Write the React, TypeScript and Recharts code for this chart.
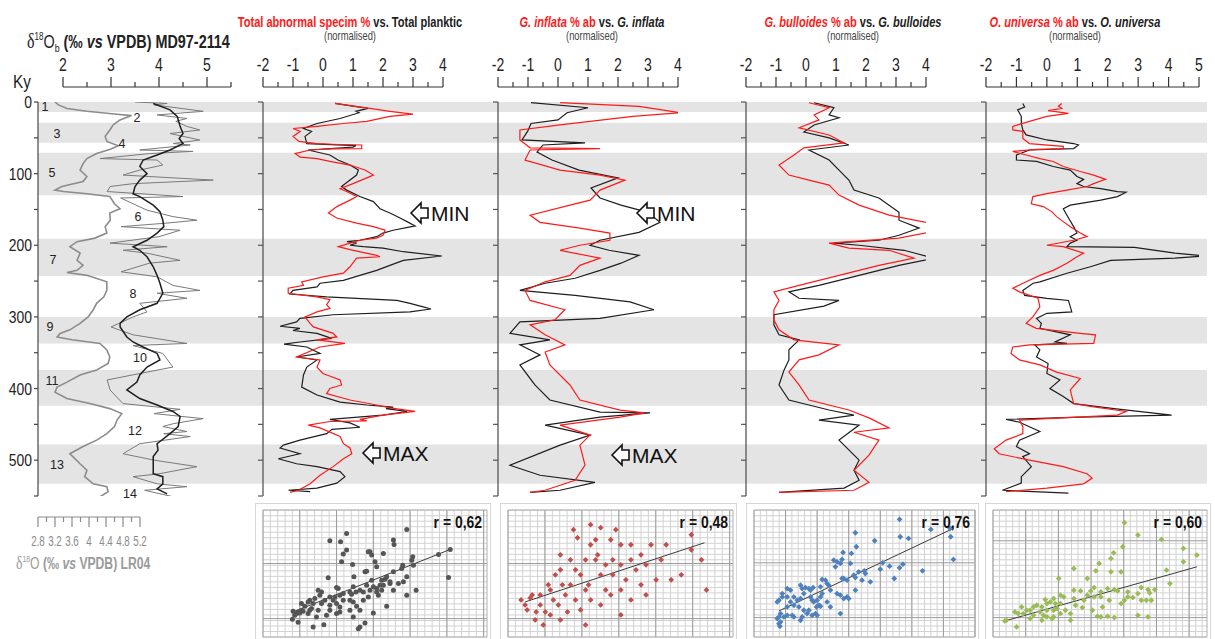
import React from 'react';
import {
  LineChart,
  Line,
  XAxis,
  YAxis,
  ReferenceArea,
  ReferenceLine,
  ScatterChart,
  Scatter,
} from 'recharts';

const W = 1215;
const H = 639;
const TOP = 102; // y of 0 ky
const BOTTOM = 496; // y of 550 ky
const KY_MAX = 550;

const SANS = "'Liberation Sans', Arial, sans-serif";
const SERIF = "'Liberation Serif', 'Times New Roman', serif";
const RED = '#ff1a1a';
const BLACK = '#1e1e1e';

// marine isotope stages shaded, ky
const misBands = [[0, 14], [29, 57], [71, 130], [191, 243], [300, 337], [374, 424], [478, 533]];

// ---- left panel: d18O, [ky, permil] ----
const lr04 = [[0,3.2],[4,3.28],[9,3.48],[13,3.95],[17,4.66],[19,5.0],[25,4.73],[32,4.57],[39,4.49],[48,4.38],[55,4.42],[61,4.69],[66,4.5],[72,4.18],[79,3.95],[86,3.86],[95,3.79],[104,3.95],[111,3.86],[118,3.36],[123,3.2],[125,3.4],[128,3.95],[132,4.49],[142,4.6],[149,4.73],[155,4.49],[165,4.5],[174,4.38],[183,4.42],[190,4.14],[195,3.72],[202,3.55],[211,3.79],[221,3.72],[228,3.86],[235,3.72],[238,3.48],[242,3.95],[251,4.42],[263,4.42],[272,4.35],[281,4.18],[290,4.1],[300,3.98],[309,3.79],[318,3.55],[323,3.32],[328,3.25],[332,3.6],[337,4.26],[346,4.42],[356,4.49],[365,4.45],[374,4.18],[381,3.79],[391,3.48],[398,3.25],[405,3.2],[414,3.48],[421,4.02],[428,4.49],[435,4.77],[444,4.66],[453,4.6],[463,4.42],[472,4.18],[481,3.86],[491,3.55],[495,3.62],[505,3.79],[514,3.95],[523,3.9],[533,4.1],[537,4.42],[544,4.45],[551,4.26],[560,4.14]];
const md97Raw = [[0,3.5],[2,4.17],[4,3.9],[13,4.92],[18,3.96],[23,4.58],[27,4.35],[34,4.58],[39,4.85],[44,4.23],[53,4.85],[58,4.3],[60,4.65],[67,3.6],[69,4.71],[72,3.8],[79,2.77],[81,3.96],[88,4.08],[95,3.6],[102,3.25],[109,5.13],[114,3.46],[118,2.98],[125,2.92],[132,4.5],[134,3.2],[142,3.46],[151,3.75],[160,4.29],[165,4.79],[169,4.17],[174,3.21],[179,4.44],[188,4.0],[197,2.98],[202,4.17],[207,3.25],[211,3.75],[221,4.44],[225,3.8],[237,3.21],[244,3.96],[256,4.29],[263,4.85],[267,3.96],[274,4.58],[281,3.6],[293,3.75],[300,3.46],[309,3.17],[314,3.0],[325,3.46],[337,4.58],[340,3.46],[351,4.08],[370,4.29],[379,3.6],[388,2.92],[402,2.98],[421,3.25],[429,4.44],[435,3.9],[442,4.92],[449,4.3],[453,4.08],[460,4.58],[463,4.1],[467,4.65],[477,3.6],[491,3.25],[500,3.9],[509,4.79],[519,4.0],[523,3.46],[533,3.96],[537,4.58],[542,3.7],[551,4.29]];
const md97Smooth = [[2,3.88],[11,4.23],[20,4.38],[34,4.44],[44,4.5],[51,4.42],[58,4.5],[67,4.23],[74,3.96],[81,3.67],[90,3.6],[100,3.75],[109,3.6],[118,3.5],[128,3.46],[132,3.6],[144,3.88],[153,4.02],[165,4.08],[174,4.1],[183,3.96],[193,3.75],[202,3.46],[207,3.6],[216,3.75],[230,3.88],[242,3.96],[253,4.02],[267,4.08],[281,3.96],[290,3.6],[300,3.33],[309,3.19],[314,3.19],[328,3.33],[335,3.46],[342,3.67],[351,3.96],[360,4.02],[370,3.75],[381,3.6],[391,3.54],[402,3.33],[414,3.6],[423,3.96],[432,4.29],[439,4.44],[453,4.4],[463,4.23],[477,3.96],[486,3.98],[495,3.88],[509,3.88],[519,3.88],[523,4.08],[533,4.08],[540,3.96],[547,4.17]];

// ---- normalised panels: [ky, value] ----
const totalBlack = [[2,0.4],[9,1.5],[13,1.1],[15,1.2],[23,0.57],[30,-0.2],[37,-0.65],[41,-0.38],[48,-0.6],[58,-0.54],[61,1.1],[63,1.0],[67,-0.5],[74,0.23],[81,0.5],[88,0.9],[95,1.18],[102,1.12],[109,0.9],[118,0.62],[123,0.79],[132,1.23],[139,1.68],[149,1.9],[155,2.23],[162,2.57],[167,2.8],[173,3.07],[179,2.34],[183,2.0],[188,1.79],[193,1.23],[195,0.8],[197,1.12],[200,0.9],[202,1.34],[204,2.0],[209,2.68],[215,3.96],[221,2.68],[228,2.23],[235,1.79],[242,1.23],[249,0.68],[253,-0.1],[258,-0.2],[263,-1.0],[268,-1.1],[272,0.12],[277,2.46],[281,2.9],[286,3.34],[289,3.6],[293,2.9],[297,0.34],[302,-0.77],[307,-0.88],[313,-1.43],[316,-0.77],[319,-1.0],[323,-0.2],[330,0.29],[335,-0.77],[338,-1.3],[342,-0.54],[351,-0.1],[356,-0.88],[360,-0.2],[370,-0.54],[381,-0.65],[398,-0.71],[409,-0.2],[419,0.57],[423,1.46],[426,2.34],[428,2.1],[432,2.8],[437,2.0],[443,0.23],[448,0.9],[454,1.23],[457,0.3],[463,0.12],[472,-0.77],[479,-1.32],[483,-1.43],[491,-0.77],[498,-1.49],[505,-0.88],[509,-0.2],[516,0.57],[523,0.73],[532,0.46],[539,-0.2],[542,-1.15],[544,-0.43]];
const totalRed = [[2,0.4],[5,0.9],[9,1.57],[13,2.23],[17,3.0],[20,2.23],[27,1.46],[30,0.68],[34,-0.2],[37,-1.0],[41,-0.76],[48,-1.0],[55,-0.8],[58,-0.2],[59,0.34],[60,1.29],[65,1.29],[65.5,0.34],[67,-0.43],[72,-0.93],[77,-0.76],[79,-0.2],[83,0.23],[88,0.9],[95,1.4],[102,1.68],[107,1.4],[114,1.0],[121,0.57],[125,0.79],[132,1.12],[137,0.9],[146,0.46],[155,0.18],[162,0.46],[169,1.12],[174,1.68],[179,2.07],[186,2.0],[190,1.79],[193,1.23],[197,0.9],[202,0.51],[206,0.9],[214,1.79],[216,1.9],[218,1.12],[230,0.9],[239,0.68],[244,0.0],[251,-0.71],[256,-0.65],[260,-1.16],[267,-1.16],[272,-0.2],[276,0.23],[283,0.12],[288,0.23],[293,-0.2],[300,-0.6],[309,-0.43],[314,-0.32],[323,0.34],[328,0.46],[332,-0.2],[337,0.73],[342,-0.1],[356,-0.88],[360,-0.1],[370,-0.2],[379,0.0],[388,0.57],[395,0.62],[400,0.23],[407,0.12],[416,0.9],[423,1.79],[427,2.23],[432,3.07],[437,2.0],[443,1.23],[445,1.46],[446,0.23],[451,-0.49],[455,-0.1],[467,0.57],[477,0.68],[483,0.9],[491,0.96],[498,0.68],[509,0.34],[521,-0.1],[533,-0.43],[542,-0.82],[545,-1.1]];
const inflataBlack = [[1,-0.9],[8,1.0],[15,0.3],[25,0.0],[30,-0.9],[40,-1.0],[53,-1.2],[57,0.9],[60,-0.5],[70,-0.7],[81,-0.2],[95,0.7],[106,2.0],[120,1.1],[134,1.4],[144,2.1],[154,3.0],[168,3.4],[182,2.7],[193,1.4],[200,1.07],[207,1.7],[214,2.7],[225,2.1],[235,1.4],[246,0.57],[253,-0.43],[263,-1.27],[270,0.57],[279,2.4],[290,3.2],[302,1.4],[307,-1.27],[323,-1.6],[332,-0.27],[339,-1.27],[353,-0.6],[367,-1.27],[395,-0.77],[416,-0.27],[433,1.4],[434,3.07],[440,1.4],[451,-0.43],[465,1.07],[479,0.07],[507,-1.6],[521,-0.6],[531,1.23],[542,0.07],[545,-0.93]];
const inflataRed = [[1,0.07],[6,2.7],[15,4.1],[20,2.5],[32,0.07],[39,-1.27],[53,-1.27],[64,-0.93],[65,1.4],[67,-0.93],[81,-1.1],[95,0.07],[102,1.4],[109,2.23],[123,1.4],[137,1.07],[144,0.4],[158,-0.93],[168,-0.6],[176,0.73],[183,1.73],[193,1.73],[200,0.73],[207,0.07],[218,1.4],[228,0.73],[242,0.4],[251,-0.43],[263,-1.1],[277,-0.93],[290,0.23],[304,-0.1],[311,-0.93],[325,-0.43],[339,0.23],[349,-0.43],[367,-0.27],[395,0.4],[416,0.73],[430,2.07],[434,2.9],[440,2.07],[451,0.07],[465,1.07],[479,0.73],[507,0.9],[528,0.57],[542,-0.43],[545,-0.93]];
const bulloidesBlack = [[1,0.27],[8,0.93],[18,0.77],[22,1.1],[32,0.27],[42,-0.07],[50,0.77],[60,1.43],[67,0.1],[81,0.77],[95,1.1],[109,1.43],[123,1.6],[134,2.43],[144,2.77],[154,3.1],[165,3.1],[176,3.77],[186,3.1],[193,2.43],[197,0.93],[200,1.77],[207,3.27],[218,4.27],[228,3.1],[242,1.77],[256,0.43],[265,-0.57],[274,-0.23],[277,1.1],[285,0.6],[297,-1.07],[311,-1.07],[325,-0.9],[332,-0.23],[346,-0.57],[360,-0.57],[374,-0.73],[395,-0.9],[416,-0.57],[430,0.77],[437,1.6],[444,0.43],[451,1.77],[472,1.1],[500,1.77],[514,1.6],[528,1.77],[539,1.27],[545,-0.9]];
const bulloidesRed = [[1,0.1],[8,0.77],[18,0.27],[25,0.43],[36,-0.23],[46,0.77],[57,1.27],[64,-0.07],[74,-0.4],[88,-0.9],[102,-0.57],[109,0.1],[116,0.77],[130,1.1],[144,1.77],[158,2.77],[169,4.1],[179,4.43],[190,3.1],[197,0.77],[204,1.43],[207,2.77],[218,3.6],[228,2.43],[242,1.1],[256,-0.23],[265,-1.07],[277,-0.9],[290,-1.07],[304,-1.07],[318,-0.9],[332,-0.4],[339,1.1],[353,0.43],[360,-0.23],[377,-0.57],[395,-0.23],[416,0.1],[430,1.43],[441,2.1],[455,2.77],[461,1.6],[472,2.43],[493,2.1],[514,1.6],[531,2.1],[542,1.6],[545,-0.9]];
const universaBlack = [[2,-0.79],[7,-0.73],[11,-0.96],[20,-0.84],[30,-0.84],[39,-0.79],[46,-0.68],[53,0],[58,0.88],[60,1.04],[65,0.88],[67,-0.57],[74,-1.0],[81,-1.0],[83,-0.34],[90,0.21],[95,0.77],[104,0.99],[108,1.21],[114,0.99],[118,1.21],[121,1.77],[125,2.32],[126,2.6],[132,2.32],[137,1.77],[144,0.77],[149,0.54],[158,0.66],[174,0.88],[183,0.99],[188,0.77],[193,0.99],[197,0.77],[202,0.66],[203,2.88],[211,4.21],[215,5.2],[218,4.21],[221,2.1],[230,1.43],[239,0.66],[251,-0.23],[253,-0.45],[263,-0.79],[270,-0.73],[274,0],[277,0.71],[293,0.82],[295,0],[302,-0.34],[309,-0.18],[316,-0.23],[325,0.77],[335,0.27],[337,0.66],[339,-0.4],[346,-0.23],[356,-0.34],[365,0.04],[379,0],[388,0.43],[400,0.1],[411,0.54],[421,0.88],[428,2.21],[437,4.1],[440,1.1],[443,-1.34],[447,-0.9],[460,-0.23],[472,-0.9],[481,-1.0],[491,-0.57],[495,-0.79],[509,-0.51],[523,-0.84],[532,-0.84],[542,-1.46],[546,0.71]];
const universaRed = [[2,0.49],[6,0.38],[9,0.49],[12,0.04],[16,0.71],[20,0],[27,-0.57],[34,-1.12],[39,-1.12],[41,-0.79],[51,-0.79],[58,-0.57],[62,0.54],[65,0.54],[66,-0.34],[69,-1.12],[74,-0.68],[79,-0.23],[83,0.21],[90,0.54],[97,1.1],[102,1.54],[108,1.93],[114,1.54],[118,1.32],[123,0.66],[128,0],[132,-0.46],[142,-0.51],[146,-0.12],[153,0.16],[160,0.32],[167,0.54],[174,0.77],[183,1.1],[188,1.32],[193,0.88],[200,0],[202,0.54],[211,1.21],[216,0.99],[225,0.66],[235,0.21],[242,-0.23],[251,-0.68],[260,-1.12],[265,-0.9],[274,-0.29],[286,-0.23],[300,-0.46],[309,-0.68],[316,-0.35],[323,1.1],[325,1.6],[337,1.54],[339,-0.57],[342,-1.12],[351,-1.18],[360,-0.9],[367,-0.23],[377,0.32],[386,1.1],[402,0.77],[421,0.88],[425,1.43],[432,2.6],[437,2.32],[442,0],[444,-0.9],[453,-0.79],[463,-0.79],[472,-1.34],[484,-1.73],[491,-1.57],[500,-0.57],[509,0.54],[519,1.32],[525,1.49],[533,1.21],[539,0],[544,-1.34]];

// ---- cross plots: [x, y] in grid units ----
const scatterTotal = [[25,31],[20,28.8],[23.2,28.5],[25,26],[24,24.8],[23.5,22.5],[26.8,21.7],[19.5,17.7],[31.5,25.5],[32,25.5],[32.5,24.5],[36,25],[33.5,22.5],[34,21],[30.5,19.5],[31,19.7],[39,29],[39.2,27.7],[43,32.2],[44.8,24],[44.5,23],[45,21.5],[41.8,21.5],[41.5,20.5],[39,19.5],[37,18],[36.5,17.3],[35.5,17],[36,15.5],[35,15.5],[34,14.5],[32.5,17],[33,15],[31,15.5],[29,14],[27.8,13.5],[27.2,18],[27,15],[26,13.5],[26.5,12.8],[24,13],[23,12.5],[21.5,12],[22,14.8],[22.5,14.5],[21,11],[20,12],[18.5,11],[17.5,13.5],[17,12.5],[16.5,14],[15.5,11.5],[15,10],[14,11],[13.5,10.5],[12.5,9.2],[11.5,8],[12,7.7],[11,7.2],[10.5,7.5],[10,7],[9,7.7],[9.5,6.5],[8.8,5.3],[10.5,4.4],[15,3],[18.2,3.7],[19,6.5],[20,8],[22,7],[23,9],[23,7.5],[26,11],[27,10.5],[28,9.2],[29,8],[29,3],[28.5,2.5],[30.5,4.2],[33,7.2],[31.5,12],[34,13.5],[34.5,12.5],[37,9.2],[39,14],[40.5,16],[42,16.5],[43,12.5],[45.8,14],[52.5,24.7],[56,26.2],[55.5,17.8],[38,16.5],[26,8],[17.5,10],[16.5,8],[14,8],[16,6],[20,9.5],[22,10],[24,11],[30,13.5],[32,14],[35.5,14],[38,16],[43,18],[30,11],[27,6],[13.5,7],[14.5,8.5],[11.5,10]];
const scatterInflata = [[3.9,11.1],[5.7,8.1],[6.6,11.7],[8.1,5.1],[9.6,9.6],[11.1,7.5],[12.6,14.1],[13.5,11.1],[15,9.6],[15.6,5.1],[17.1,12.6],[18.6,15.6],[20.1,11.1],[21.6,18.6],[23.1,23.1],[24.6,27.6],[26.1,23.1],[27.6,18.6],[29.1,14.1],[30.6,29.1],[31.2,23.1],[33.6,21.6],[35.1,17.1],[36.6,23.1],[38.1,20.1],[39.6,24.6],[41.1,21.6],[42.6,27.6],[45.6,23.1],[48.6,17.1],[51.6,18.6],[54.6,26.1],[57.6,23.1],[19.5,32.1],[20.7,29.7],[27.6,32.7],[24.6,33.6],[32.1,32.1],[33.6,27.6],[14.1,18.6],[12,15.6],[16.2,15.6],[15.6,20.1],[9.6,12.6],[7.2,12.6],[5.1,9.6],[8.4,7.5],[10.5,3.6],[12.6,6.6],[17.7,7.5],[21.6,8.1],[24.6,11.1],[27.6,9.6],[30.6,12.6],[33.6,14.1],[36.6,11.1],[39.6,15.6],[26.7,24.6],[24,15.6],[29.1,21.6],[18.6,23.1],[47.1,27.6],[59.1,14.1],[54.6,30.6],[15.6,24.6],[23.1,3.6],[33.6,6.6],[41.1,12.6],[44.1,17.1],[23.1,14.1],[26.1,29.1],[36.6,27.6],[31.2,18.6],[20.1,20.1]];
const scatterBulloides = [[43.8,35.2],[53.2,32.2],[59,32.5],[59.2,30],[60,23.2],[50.7,19.8],[46.5,29.5],[44,30],[44.8,21.8],[43.8,20.7],[42.2,17.5],[40.8,21.2],[38,20.3],[38.7,22.2],[36.3,28.8],[30.5,31.2],[30.8,27],[29.3,25],[26.8,25.3],[26.5,23.2],[29,22],[26,22],[25,22.5],[24,23],[24.5,21],[26.5,17.5],[27,17.5],[28,17],[30,18.5],[30.5,17.8],[31.5,19.5],[32.5,17],[33.2,19.8],[35,16.5],[33.5,19],[30.5,14],[28,12],[28.5,11.5],[27,11.5],[26,12.5],[25,13],[26,7],[23,14],[22.5,15.5],[22,16],[21.5,17],[20.5,17.2],[20,15],[20.5,13],[20,12],[19,11],[18.8,9],[19.5,9.5],[18.5,7],[17.5,11],[17,12],[17,14],[17.8,14.8],[16.5,14.5],[15.5,14.8],[14.5,14.5],[14,15.5],[15,13],[14,11.5],[13,11],[12,12],[11,14],[10,14.5],[8.5,13],[7.5,11],[7,10.5],[8.5,12],[10,12],[11.5,6.5],[12,6],[10,6.5],[8,7],[7.5,6],[7,5.5],[7.5,4],[7.8,3.2],[8,4.5],[9,6],[10,9],[11,10.5],[12,9.5],[13.5,9],[15,8],[14,5],[14.5,6],[16,7],[16.5,8],[17.5,6.5],[19,6.5],[20,9.2],[22,10.5],[23,9],[18,10.5]];
const scatterUniversa = [[39,34.2],[43,30.5],[50,29.2],[38.5,27],[35,23.5],[31.5,22],[35.8,25.2],[24,20.5],[30.5,19.8],[35,19.5],[38,19.5],[56.5,26.5],[60.5,24.5],[56.5,22.5],[51.5,20],[52.5,16],[19.5,17.5],[28,17.5],[34,14.5],[30,14.8],[24,14],[26,13.8],[29,13.8],[32,13.5],[36,14.2],[37,13.8],[40,13.5],[44,14.8],[46,14.2],[48,14.2],[46.5,13.2],[43,13],[41.5,11.8],[40,12],[39,11],[44,11],[45.5,11],[47,11],[38,10],[34.5,11],[32,12],[30,12],[28,12.5],[27,11],[24,11.5],[21,12],[20,12.5],[18.5,10],[17,10.5],[15.5,11.2],[14.5,9],[13,9.5],[12,9],[11,8],[12,6.5],[10,8],[8.5,9],[9,7],[7.5,7],[6.5,7.5],[4,5],[3.5,4.8],[7,3],[15,6.5],[16,6],[18,6],[20,7],[21.5,8],[23,7],[24.5,9.5],[26.5,8.8],[29.5,8],[32.5,9],[32,6],[34,6.2],[31,6.2],[36,5.8],[43,6.5],[46,6],[20,10],[18,8],[16,8],[14.5,5],[17.5,5.5],[23,5],[11,5.5],[14,7.5],[18,11.5],[16,10],[19,8.5]];

// regression lines, [x0, y0, x1, y1]
const trendTotal = [9.0, 7.5, 56, 26.2];
const trendInflata = [5.1, 10.5, 58.5, 28.2];
const trendBulloides = [7.5, 7.8, 60, 32.5];
const trendUniversa = [3.5, 4.8, 60.5, 21];
const rValues = ['0,62', '0,48', '0,76', '0,60'];

const pts = (arr: number[][]) => arr.map(([ky, v]) => ({ ky, v }));
const xy = (arr: number[][]) => arr.map(([x, y]) => ({ x, y }));
const steps = (a: number, b: number, s: number) => {
  const out: number[] = [];
  for (let v = a; v <= b + 1e-6; v += s) out.push(Math.round(v * 100) / 100);
  return out;
};

const abs: React.CSSProperties = { position: 'absolute', left: 0, top: 0 };

// condensed look: squeeze text horizontally
const Narrow = ({ x, y, anchor = 'middle', size, fill = '#222', k = 0.78, weight = 'normal', children }: any) => (
  <text
    transform={`translate(${x},${y}) scale(${k},1)`}
    textAnchor={anchor}
    fontSize={size}
    fontFamily={SANS}
    fontWeight={weight}
    fill={fill}
  >
    {children}
  </text>
);

const TopTick = (props: any) => {
  const { x, y, payload } = props;
  const v = payload.value;
  const major = Math.abs(v - Math.round(v)) < 1e-6;
  return (
    <g>
      <line x1={x} x2={x} y1={y} y2={y - (major ? 10 : 5)} stroke="#333" strokeWidth={1.2} />
      {major && <Narrow x={x} y={y - 16} size={18}>{v}</Narrow>}
    </g>
  );
};

const Lr04Tick = (props: any) => {
  const { x, y, payload } = props;
  const v = payload.value;
  const major = Math.round(v * 10) % 4 === 0;
  return (
    <g>
      <line x1={x} x2={x} y1={y} y2={y + (major ? 10 : 5)} stroke="#8a8a8a" strokeWidth={1.2} />
      {major && <Narrow x={x} y={y + 29} size={14} fill="#8a8a8a" k={0.7}>{String(v)}</Narrow>}
    </g>
  );
};

const KyTick = (props: any) => {
  const { x, y, payload } = props;
  const v = payload.value;
  return (
    <g>
      <line x1={x} x2={x - 4} y1={y} y2={y} stroke="#444" strokeWidth={1.2} />
      {v % 100 === 0 && <Narrow x={x - 6} y={y + 6} anchor="end" size={17} k={0.82}>{v}</Narrow>}
    </g>
  );
};

const PanelTick = (props: any) => {
  const { x, y } = props;
  return <line x1={x} x2={x - 5} y1={y} y2={y} stroke="#555" strokeWidth={1.2} />;
};

type Series = { data: number[][]; color: string; width: number };

function CurveChart({ left, right, domain, series, axis }: { left: number; right: number; domain: number[]; series: Series[]; axis?: 'ky' | 'panel' }) {
  const axisW = 30;
  return (
    <div style={abs}>
      <LineChart
        layout="vertical"
        width={W}
        height={H}
        margin={{ top: TOP, bottom: H - BOTTOM, left: axis ? left - axisW : left, right: W - right }}
      >
        <XAxis type="number" domain={domain} hide allowDataOverflow />
        <YAxis
          type="number"
          dataKey="ky"
          domain={[0, KY_MAX]}
          hide={!axis}
          width={axisW}
          ticks={steps(0, 550, 50)}
          interval={0}
          tickSize={0}
          tickMargin={0}
          tickLine={false}
          tick={axis === 'ky' ? <KyTick /> : <PanelTick />}
          axisLine={{ stroke: '#555', strokeWidth: 1.3 }}
          allowDataOverflow
        />
        {series.map((s, i) => (
          <Line
            key={i}
            data={pts(s.data)}
            dataKey="v"
            type="linear"
            stroke={s.color}
            strokeWidth={s.width}
            dot={false}
            isAnimationActive={false}
          />
        ))}
      </LineChart>
    </div>
  );
}

// axis-only chart: an invisible line keeps the axes alive
function AxisChart({ left, right, domain, ticks, lineY, orientation, tick, stroke }: {
  left: number; right: number; domain: number[]; ticks: number[]; lineY: number; orientation: 'top' | 'bottom'; tick: any; stroke: string;
}) {
  const margin = orientation === 'top'
    ? { top: lineY - 1, bottom: H - lineY - 10, left, right: W - right }
    : { top: lineY - 10, bottom: H - lineY - 1, left, right: W - right };
  return (
    <div style={abs}>
      <LineChart layout="vertical" width={W} height={H} margin={margin}>
        <XAxis
          type="number"
          orientation={orientation}
          domain={domain}
          ticks={ticks}
          interval={0}
          height={1}
          tickSize={0}
          tickMargin={0}
          tickLine={false}
          tick={tick}
          axisLine={{ stroke, strokeWidth: 1.2 }}
          allowDataOverflow
        />
        <YAxis type="number" dataKey="ky" domain={[0, 1]} hide />
        <Line data={[{ ky: 0, v: domain[0] }, { ky: 1, v: domain[0] }]} dataKey="v" stroke="none" dot={false} isAnimationActive={false} />
      </LineChart>
    </div>
  );
}

function Bands() {
  return (
    <div style={abs}>
      <LineChart layout="vertical" width={W} height={H} margin={{ top: TOP, bottom: H - BOTTOM, left: 38, right: W - 1207 }}>
        <XAxis type="number" domain={[0, 1]} hide allowDataOverflow />
        <YAxis type="number" dataKey="ky" domain={[0, KY_MAX]} hide allowDataOverflow />
        {misBands.map(([a, b]) => (
          <ReferenceArea key={a} x1={0} x2={1} y1={a} y2={b} fill="#e4e4e4" fillOpacity={1} stroke="none" />
        ))}
        <Line data={[{ ky: 0, v: 0 }, { ky: 1, v: 0 }]} dataKey="v" stroke="none" dot={false} isAnimationActive={false} />
      </LineChart>
    </div>
  );
}

const makeDot = (color: string, kind: 'circle' | 'diamond') => (p: any) => {
  const { cx, cy } = p;
  if (kind === 'circle') return <circle cx={cx} cy={cy} r={2.5} fill={color} />;
  const s = 2.9;
  return <path d={`M${cx} ${cy - s}L${cx + s} ${cy}L${cx} ${cy + s}L${cx - s} ${cy}Z`} fill={color} />;
};

function CrossPlot({ left, width, data, color, kind, trend, r, xMax, xMajor, yMajors }: {
  left: number; width: number; data: number[][]; color: string; kind: 'circle' | 'diamond';
  trend: number[]; r: string; xMax: number; xMajor: number; yMajors: number[];
}) {
  const yMax = 38;
  const xMinor = steps(0, xMax, xMajor / 5);
  const yMinor = steps(0, yMax, 1.65);
  return (
    <div style={{ position: 'absolute', left, top: 503, width, height: 150, border: '1px solid #d6d6d6', boxSizing: 'border-box', background: '#fff' }}>
      <ScatterChart width={width - 2} height={136} margin={{ top: 6, left: 7, right: 3, bottom: 3 }}>
        <XAxis type="number" dataKey="x" domain={[0, xMax]} hide allowDataOverflow />
        <YAxis type="number" dataKey="y" domain={[0, yMax]} hide allowDataOverflow />
        {xMinor.map((v) => (
          <ReferenceLine key={'mx' + v} x={v} stroke="#d2d2d2" strokeWidth={1} />
        ))}
        {yMinor.map((v) => (
          <ReferenceLine key={'my' + v} y={v} stroke="#d2d2d2" strokeWidth={1} />
        ))}
        {steps(0, xMax, xMajor).map((v) => (
          <ReferenceLine key={'x' + v} x={v} stroke="#9c9c9c" strokeWidth={1} />
        ))}
        {yMajors.map((v) => (
          <ReferenceLine key={'y' + v} y={v} stroke="#9c9c9c" strokeWidth={1} />
        ))}
        <ReferenceLine y={yMax} stroke="#b0b0b0" />
        <ReferenceLine y={0} stroke="#b0b0b0" />
        <ReferenceLine x={xMax} stroke="#b0b0b0" />
        <Scatter data={xy(data)} fill={color} shape={makeDot(color, kind)} isAnimationActive={false} />
        <ReferenceLine
          segment={[{ x: trend[0], y: trend[1] }, { x: trend[2], y: trend[3] }]}
          stroke="#3a3a3a"
          strokeWidth={1}
        />
      </ScatterChart>
      <svg width={width} height={40} style={{ position: 'absolute', left: 0, top: 0 }}>
        <Narrow x={width - 10} y={24} anchor="end" size={17} weight="bold" fill="#111" k={0.82}>
          r = {r}
        </Narrow>
      </svg>
    </div>
  );
}

function Arrow({ x, y, label }: { x: number; y: number; label: string }) {
  const d = `M${x} ${y} L${x + 10} ${y - 10} L${x + 10} ${y - 5} L${x + 17} ${y - 5} L${x + 17} ${y + 5} L${x + 10} ${y + 5} L${x + 10} ${y + 10} Z`;
  return (
    <g>
      <path d={d} fill="#fff" stroke="#111" strokeWidth={1.6} strokeLinejoin="miter" />
      <text x={x + 20} y={y + 8} fontFamily={SANS} fontSize={21} fill="#111">
        {label}
      </text>
    </g>
  );
}

const stageLabels: [string, number, number][] = [
  ['1', 45, 106], ['2', 137, 117], ['3', 57, 133], ['4', 122, 143], ['5', 52, 172], ['6', 138, 216], ['7', 53, 259],
  ['8', 133, 293], ['9', 50, 326], ['10', 140, 357], ['11', 52, 380], ['12', 135, 430], ['13', 57, 464], ['14', 130, 493],
];

function PanelTitle({ cx, red, redItalic, black, blackItalic }: { cx: number; red: string; redItalic?: string; black: string; blackItalic?: string }) {
  return (
    <g>
      <Narrow x={cx} y={27} size={14} weight="bold" k={0.79}>
        {redItalic && <tspan fill={RED} fontStyle="italic">{redItalic}</tspan>}
        <tspan fill={RED}>{red}</tspan>
        <tspan fill="#222">{black}</tspan>
        {blackItalic && <tspan fill="#222" fontStyle="italic">{blackItalic}</tspan>}
      </Narrow>
      <Narrow x={cx} y={40} size={12} fill="#444" k={0.78}>(normalised)</Narrow>
    </g>
  );
}

function Annotations() {
  return (
    <svg width={W} height={H} style={abs}>
      <Narrow x={27} y={48} anchor="start" size={18} weight="bold" k={0.8}>
        <tspan fontFamily={SERIF} fontWeight="normal" fontSize={20}>δ</tspan>
        <tspan fontSize={10} fontWeight="normal" dy={-8}>18</tspan>
        <tspan fontWeight="normal" dy={8}>O</tspan>
        <tspan fontSize={11} fontWeight="normal" dy={4}>b</tspan>
        <tspan dy={-4}> (‰ </tspan>
        <tspan fontStyle="italic">vs</tspan>
        <tspan> VPDB) MD97-2114</tspan>
      </Narrow>
      <Narrow x={13} y={88} anchor="start" size={18} k={0.85}>Ky</Narrow>
      <Narrow x={16} y={569} anchor="start" size={16} weight="bold" fill="#9a9a9a" k={0.76}>
        <tspan fontFamily={SERIF} fontWeight="normal" fontSize={18}>δ</tspan>
        <tspan fontSize={9} fontWeight="normal" dy={-7}>18</tspan>
        <tspan fontWeight="normal" dy={7}>O</tspan>
        <tspan> (‰ </tspan>
        <tspan fontStyle="italic">vs</tspan>
        <tspan> VPDB) LR04</tspan>
      </Narrow>
      {stageLabels.map(([t, x, y]) => (
        <text key={t} x={x} y={y + 4.5} textAnchor="middle" fontFamily={SANS} fontSize={12.5} fill="#222">
          {t}
        </text>
      ))}
      <PanelTitle cx={350} red="Total abnormal specim %" black=" vs. Total planktic" />
      <PanelTitle cx={592} redItalic="G. inflata" red=" % ab" black=" vs. " blackItalic="G. inflata" />
      <PanelTitle cx={853} redItalic="G. bulloides" red=" % ab" black=" vs. " blackItalic="G. bulloides" />
      <PanelTitle cx={1075} redItalic="O. universa" red=" % ab" black=" vs. " blackItalic="O. universa" />
      <Arrow x={411} y={213} label="MIN" />
      <Arrow x={363} y={453} label="MAX" />
      <Arrow x={637} y={213} label="MIN" />
      <Arrow x={612} y={455} label="MAX" />
    </svg>
  );
}

const half = (a: number, b: number) => steps(a, b, 0.5);

export default function App() {
  return (
    <div style={{ position: 'absolute', left: 0, top: 0, width: W, height: H, overflow: 'hidden', background: '#fff' }}>
      <Bands />
      <CurveChart left={38} right={140} domain={[2.8, 5.2]} series={[{ data: lr04, color: '#8c8c8c', width: 1.6 }]} axis="ky" />
      <CurveChart
        left={63}
        right={231}
        domain={[2, 5.5]}
        series={[
          { data: md97Raw, color: '#7a7a7a', width: 1 },
          { data: md97Smooth, color: BLACK, width: 1.5 },
        ]}
      />
      <CurveChart left={263} right={443} domain={[-2, 4]} axis="panel" series={[{ data: totalBlack, color: BLACK, width: 1.2 }, { data: totalRed, color: RED, width: 1.2 }]} />
      <CurveChart left={498} right={678} domain={[-2, 4]} axis="panel" series={[{ data: inflataBlack, color: BLACK, width: 1.2 }, { data: inflataRed, color: RED, width: 1.2 }]} />
      <CurveChart left={746} right={926} domain={[-2, 4]} axis="panel" series={[{ data: bulloidesBlack, color: BLACK, width: 1.2 }, { data: bulloidesRed, color: RED, width: 1.2 }]} />
      <CurveChart left={986} right={1199} domain={[-2, 5]} axis="panel" series={[{ data: universaBlack, color: BLACK, width: 1.2 }, { data: universaRed, color: RED, width: 1.2 }]} />
      <AxisChart left={63} right={231} domain={[2, 5.5]} ticks={half(2, 5.5)} lineY={87} orientation="top" tick={<TopTick />} stroke="#333" />
      <AxisChart left={263} right={443} domain={[-2, 4]} ticks={half(-2, 4)} lineY={87} orientation="top" tick={<TopTick />} stroke="#333" />
      <AxisChart left={498} right={678} domain={[-2, 4]} ticks={half(-2, 4)} lineY={87} orientation="top" tick={<TopTick />} stroke="#333" />
      <AxisChart left={746} right={926} domain={[-2, 4]} ticks={half(-2, 4)} lineY={87} orientation="top" tick={<TopTick />} stroke="#333" />
      <AxisChart left={986} right={1199} domain={[-2, 5]} ticks={half(-2, 5)} lineY={87} orientation="top" tick={<TopTick />} stroke="#333" />
      <AxisChart left={38} right={140} domain={[2.8, 5.2]} ticks={steps(2.8, 5.2, 0.2)} lineY={517} orientation="bottom" tick={<Lr04Tick />} stroke="#8a8a8a" />
      <Annotations />
      <CrossPlot left={255} width={236} data={scatterTotal} color="#555555" kind="circle" trend={trendTotal} r={rValues[0]} xMax={67} xMajor={11} yMajors={[5.5, 22]} />
      <CrossPlot left={500} width={237} data={scatterInflata} color="#c0504d" kind="diamond" trend={trendInflata} r={rValues[1]} xMax={67} xMajor={11} yMajors={[5.5, 22]} />
      <CrossPlot left={746} width={233} data={scatterBulloides} color="#4f81bd" kind="diamond" trend={trendBulloides} r={rValues[2]} xMax={66.5} xMajor={9.5} yMajors={[5.8, 22.2]} />
      <CrossPlot left={985} width={226} data={scatterUniversa} color="#9bbb59" kind="diamond" trend={trendUniversa} r={rValues[3]} xMax={63.5} xMajor={9.7} yMajors={[5.8, 28.8]} />
    </div>
  );
}
